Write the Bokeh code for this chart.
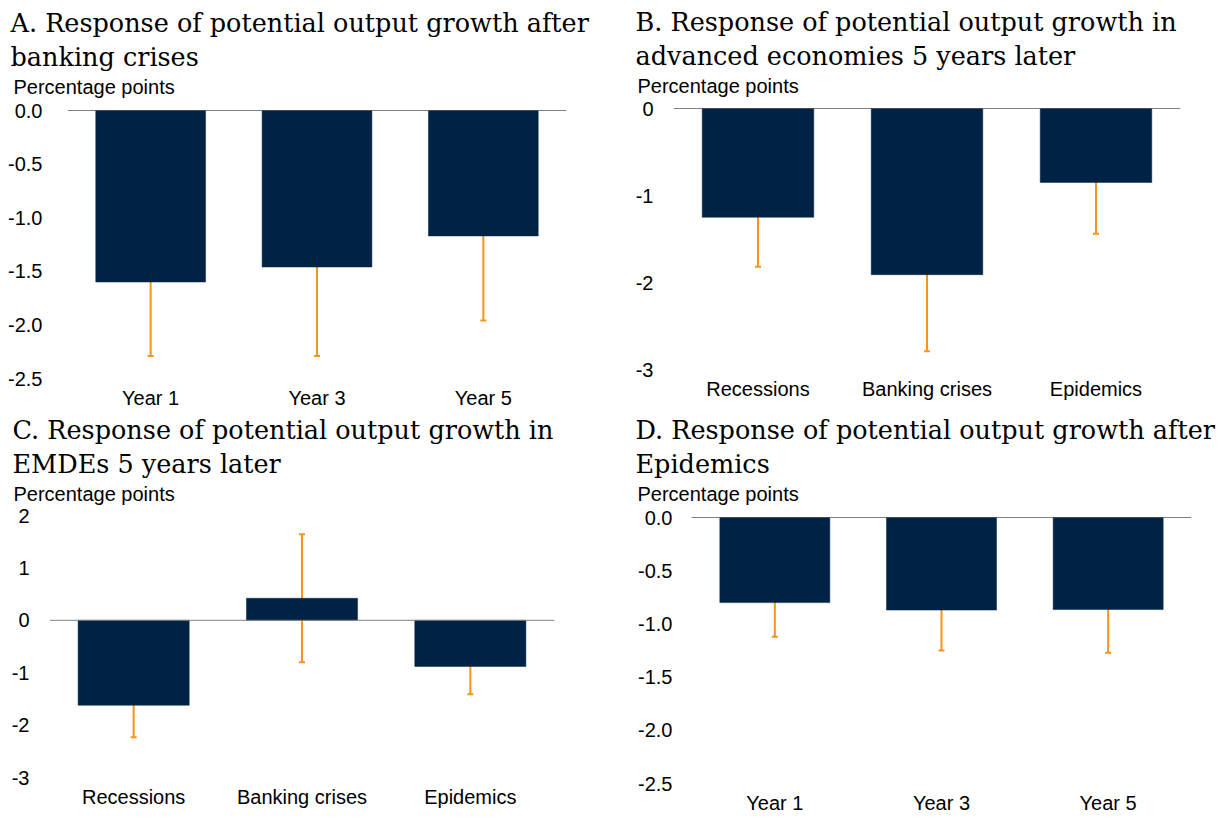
from bokeh.plotting import figure
from bokeh.models import ColumnDataSource, Whisker, TeeHead, Span, Title, FixedTicker, Range1d, NumeralTickFormatter
from bokeh.layouts import row, column
from bokeh.embed import file_html
from bokeh.resources import INLINE

years = ["Year 1", "Year 3", "Year 5"]
events = ["Recessions", "Banking crises", "Epidemics"]

# Panel A: response after banking crises
a_vals = [-1.60, -1.46, -1.17]
a_lo = [-2.29, -2.29, -1.96]
a_hi = [-0.93, -0.65, -0.37]

# Panel B: advanced economies, 5 years later
b_vals = [-1.25, -1.91, -0.85]
b_lo = [-1.82, -2.79, -1.44]
b_hi = [-0.70, -1.02, -0.26]

# Panel C: EMDEs, 5 years later
c_vals = [-1.62, 0.42, -0.88]
c_lo = [-2.23, -0.80, -1.41]
c_hi = [-1.02, 1.64, -0.36]

# Panel D: response after epidemics
d_vals = [-0.80, -0.87, -0.865]
d_lo = [-1.12, -1.25, -1.27]
d_hi = [-0.49, -0.51, -0.48]

a_ticks = [0.0, -0.5, -1.0, -1.5, -2.0, -2.5]
b_ticks = [0, -1, -2, -3]
c_ticks = [2, 1, 0, -1, -2, -3]
d_ticks = [0.0, -0.5, -1.0, -1.5, -2.0, -2.5]

BAR = "#002345"
ERR = "#F7941D"
SANS = "Liberation Sans"
SERIF = "DejaVu Serif"
TFS = "25.5px"


def panel(cats, vals, lo, hi, ticks, fmt, yr, title1, title2, w, h,
          bl, br, bt, bb, toff, poff, gap, zero_color="black", label_standoff=20):
    src = ColumnDataSource(dict(cat=cats, val=vals, lo=lo, hi=hi))
    p = figure(x_range=cats, y_range=Range1d(*yr), width=w, height=h,
               output_backend="svg", toolbar_location=None,
               min_border_left=bl, min_border_right=br,
               min_border_top=bt, min_border_bottom=bb)
    p.outline_line_color = None
    p.grid.visible = False
    p.add_layout(Span(location=0, dimension="width", line_color=zero_color, line_width=1))
    p.vbar(x="cat", top="val", bottom=0, width=0.66, source=src,
           fill_color=BAR, line_color=BAR, line_width=0.5)
    head_u = TeeHead(size=6, line_color=ERR, line_width=2)
    head_l = TeeHead(size=6, line_color=ERR, line_width=2)
    p.add_layout(Whisker(source=src, base="cat", upper="hi", lower="lo",
                         line_color=ERR, line_width=2,
                         upper_head=head_u, lower_head=head_l))
    p.yaxis.ticker = FixedTicker(ticks=ticks)
    p.yaxis.formatter = NumeralTickFormatter(format=fmt)
    for ax in (p.xaxis[0], p.yaxis[0]):
        ax.axis_line_color = None
        ax.major_tick_line_color = None
        ax.minor_tick_line_color = None
        ax.major_tick_out = 0
        ax.major_tick_in = 0
        ax.minor_tick_out = 0
        ax.major_label_text_font = SANS
        ax.major_label_text_font_size = "20px"
        ax.major_label_text_color = "black"
    p.yaxis.major_label_standoff = label_standoff
    p.xaxis.major_label_standoff = 8
    # spacer between frame and the unit label
    p.add_layout(Title(text=" ", text_font_size="2px", standoff=gap), "above")
    p.add_layout(Title(text="Percentage points", text_font=SANS, text_font_size="20px",
                       text_font_style="normal", text_color="black", align="left",
                       offset=poff, standoff=0), "above")
    p.add_layout(Title(text=title2, text_font=SERIF, text_font_size=TFS,
                       text_font_style="normal", text_color="black", align="left",
                       offset=toff, standoff=4), "above")
    p.add_layout(Title(text=title1, text_font=SERIF, text_font_size=TFS,
                       text_font_style="normal", text_color="black", align="left",
                       offset=toff, standoff=0), "above")
    return p


pa = panel(years, a_vals, a_lo, a_hi, a_ticks, "0.0", (-2.5, 0),
           "A. Response of potential output growth after", "banking crises",
           611, 411, 67, 45, 110, 31, -57, -54, 9, label_standoff=25)
pb = panel(events, b_vals, b_lo, b_hi, b_ticks, "0", (-3, 0),
           "B. Response of potential output growth in", "advanced economies 5 years later",
           612, 411, 62, 43, 108, 42, -38, -36, 8)
pc = panel(events, c_vals, c_lo, c_hi, c_ticks, "0", (-3, 2),
           "C. Response of potential output growth in", "EMDEs 5 years later",
           611, 406, 49, 57, 104, 40, -37, -36, 7, zero_color="#808080")
pd_ = panel(years, d_vals, d_lo, d_hi, d_ticks, "0.0", (-2.5, 0),
            "D. Response of potential output growth after", "Epidemics",
            612, 406, 80, 32, 106, 34, -56, -54, 9, label_standoff=19)

layout = column(row(column(pa), column(pb)), row(column(pc), column(pd_)))
open("out.html", "w").write(file_html(layout, INLINE))
